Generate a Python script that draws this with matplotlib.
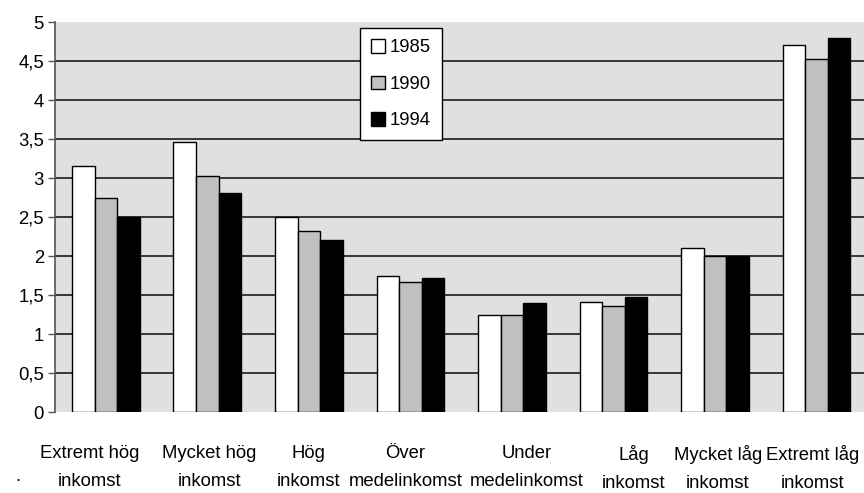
import numpy as np
import matplotlib
matplotlib.use("Agg")
import matplotlib.pyplot as plt
import matplotlib.transforms as mtransforms
from matplotlib.ticker import FuncFormatter

plt.rcParams['font.family'] = ['Liberation Sans', 'DejaVu Sans']

categories = ["Extremt hög\ninkomst", "Mycket hög\ninkomst", "Hög\ninkomst",
              "Över\nmedelinkomst", "Under\nmedelinkomst", "Låg\ninkomst",
              "Mycket låg\ninkomst", "Extremt låg\ninkomst"]
years = ["1985", "1990", "1994"]
v1985 = [3.16, 3.46, 2.50, 1.74, 1.25, 1.41, 2.10, 4.71]
v1990 = [2.75, 3.03, 2.32, 1.67, 1.25, 1.36, 2.00, 4.53]
v1994 = [2.50, 2.81, 2.20, 1.72, 1.40, 1.47, 2.00, 4.79]
yticks = [0, 0.5, 1, 1.5, 2, 2.5, 3, 3.5, 4, 4.5, 5]

fig = plt.figure(figsize=(8.64, 4.93), dpi=100)
ax = fig.add_axes([0.0637, 0.1643, 0.94, 0.791])
ax.set_facecolor("#e0e0e0")

x = np.arange(len(categories))
w = 1 / 4.5
colors = ["white", "#c0c0c0", "black"]
for i, (vals, c) in enumerate(zip([v1985, v1990, v1994], colors)):
    ax.bar(x + (i - 1) * w, vals, w, color=c, edgecolor="black", linewidth=1.0,
           label=years[i], zorder=3)

ax.set_xlim(-0.5, 7.5)
ax.set_ylim(0, 5)
ax.set_yticks(yticks)
ax.yaxis.set_major_formatter(FuncFormatter(lambda v, p: ("%g" % v).replace(".", ",")))
for yv in yticks[1:-1]:
    ax.axhline(yv, color="#2a2a2a", linewidth=1.3, zorder=1)

ax.set_xticks(x)
ax.set_xticklabels(categories, fontsize=13.3, linespacing=1.8)
ax.tick_params(axis="x", length=0, pad=24)
ax.tick_params(axis="y", labelsize=13.3, length=5, width=1, color="#555555", pad=3)

# the original labels sit a bit off-centre (wrapped text boxes)
shift_px = [-16, 2, 0, -5, 15, 20, 3, -4]
for lab, dx in zip(ax.get_xticklabels(), shift_px):
    lab.set_transform(lab.get_transform() +
                      mtransforms.ScaledTranslation(dx / 100, 0, fig.dpi_scale_trans))

for s in ["top", "right", "bottom"]:
    ax.spines[s].set_visible(False)
ax.spines["left"].set_color("#555555")
ax.spines["left"].set_linewidth(1.2)

leg = ax.legend(loc="upper left", bbox_to_anchor=(0.376, 0.985), fontsize=13.3,
                frameon=True, fancybox=False, edgecolor="black", framealpha=1,
                handlelength=0.75, handleheight=0.75, handletextpad=0.25,
                labelspacing=1.05, borderpad=0.6, borderaxespad=0)
leg.get_frame().set_linewidth(1.0)

fig.text(0.018, 0.025, ".", fontsize=13.3)

fig.savefig("out.png", dpi=100)
